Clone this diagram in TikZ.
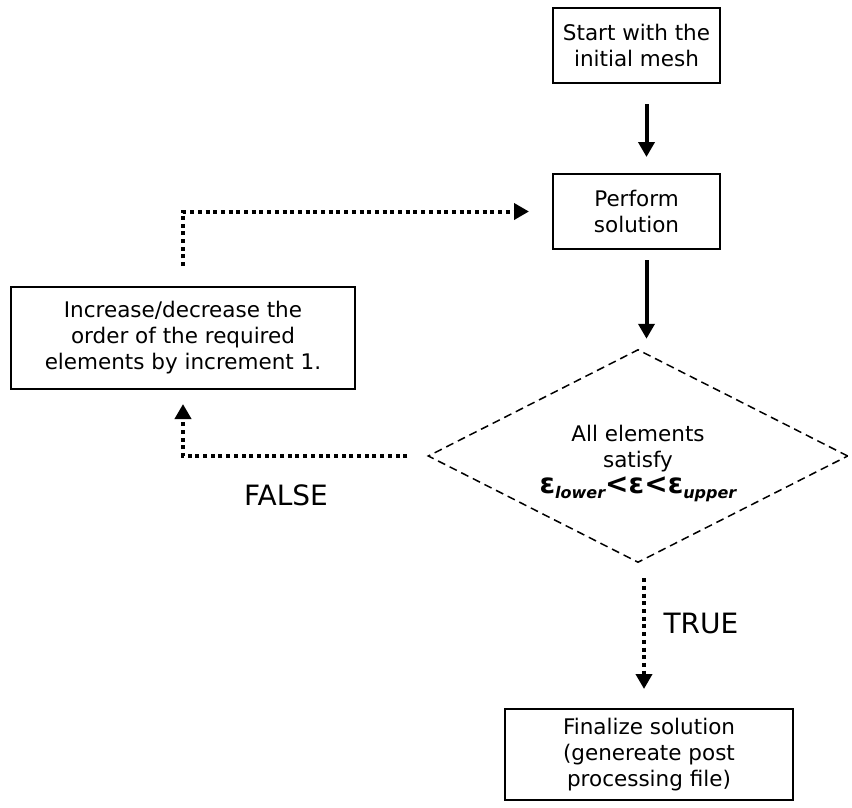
\documentclass[tikz,border=0pt]{standalone}
\usepackage{fontspec}
\setmainfont{DejaVu Sans}
\usetikzlibrary{shapes.geometric,arrows.meta,calc}
\tikzset{
  boxnode/.style={draw, line width=2pt, inner sep=0pt, align=center, font=\fontsize{21.5}{26}\selectfont},
  solidarrow/.style={line width=4pt, -{Triangle[length=15pt,width=16pt]}},
  dotarrow/.style={line width=4pt, dash pattern=on 4pt off 3.7pt, -{Triangle[length=15pt,width=16pt]}},
  decnode/.style={draw, diamond, line width=1.5pt, dash pattern=on 8pt off 5pt, inner sep=0pt, aspect=2, minimum width=420pt, minimum height=213pt},
  dectext/.style={align=center, font=\fontsize{21.5}{26}\selectfont},
  lbl/.style={font=\fontsize{28}{32}\selectfont}
}
\begin{document}
\begin{tikzpicture}[x=1pt,y=-1pt]
\useasboundingbox (0,0) rectangle (852,807);
\node[boxnode, minimum width=167pt, minimum height=75pt] (start) at (636.5,45.5) {Start with the\\initial mesh};
\node[boxnode, minimum width=167pt, minimum height=75pt] (perform) at (636.5,211.5) {Perform\\solution};
\node[boxnode, minimum width=344pt, minimum height=102pt] (inc) at (183,338) {Increase/decrease the\\order of the required\\elements by increment 1.};
\node[decnode, label={[dectext, yshift=-7pt]center:All elements\\satisfy\\[0pt]{\fontsize{28}{30}\selectfont\bfseries ε\raisebox{-5pt}{\fontsize{16}{16}\selectfont\itshape lower}<ε<ε\raisebox{-5pt}{\fontsize{16}{16}\selectfont\itshape upper}}}] (dec) at (638,456) {};
\node[boxnode, minimum width=288pt, minimum height=91pt] (final) at (649,754.5) {Finalize solution\\(genereate post\\processing file)};
\node[lbl] (false) at (286,495) {FALSE};
\node[lbl] (true) at (701,623) {TRUE};

\coordinate (ttop) at ($(dec.south)+(6,15)$);
\coordinate (tbot) at ($(dec.south |- final.north)+(6,-19)$);
\coordinate (sa) at ($(start.south)+(10,20)$);
\coordinate (sb) at ($(perform.north)+(10,-16)$);
\coordinate (pa) at ($(perform.south)+(10,10)$);
\coordinate (pb) at ($(perform.south |- dec.north)+(10,-10)$);

\draw[solidarrow] (sa) -- (sb);
\draw[solidarrow] (pa) -- (pb);
\draw[dotarrow] ([yshift=20pt]inc.north) |- ([xshift=-23pt]perform.west);
\draw[dotarrow] ([xshift=-20pt]dec.west) -| ([yshift=-14pt]inc.south);
\draw[dotarrow] (ttop) -- (tbot);
\end{tikzpicture}
\end{document}
